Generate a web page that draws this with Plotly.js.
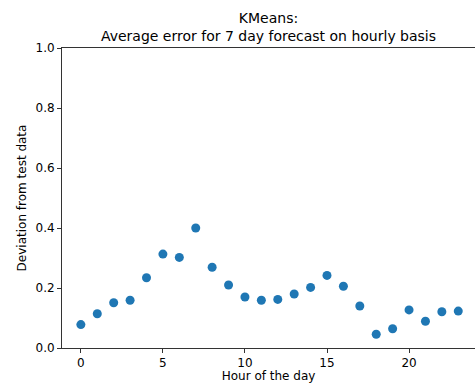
<!DOCTYPE html>
<html>
<head>
<meta charset="utf-8">
<script src="https://cdn.plot.ly/plotly-3.0.1.min.js"></script>
<style>html,body{margin:0;padding:0;background:#fff;}#chart{width:475px;height:383px;}</style>
</head>
<body>
<div id="chart"></div>
<script>
const hours = [0,1,2,3,4,5,6,7,8,9,10,11,12,13,14,15,16,17,18,19,20,21,22,23];
const deviation = [0.078,0.114,0.151,0.159,0.234,0.313,0.302,0.400,0.269,0.210,0.170,0.159,0.162,0.180,0.202,0.242,0.206,0.140,0.046,0.064,0.127,0.089,0.121,0.123];
const xTicks = [0,5,10,15,20];
const yTicks = [0,0.2,0.4,0.6,0.8,1.0];

const font = {family: 'DejaVu Sans, sans-serif', color: '#000'};
Plotly.newPlot('chart', [{
  x: hours, y: deviation, type: 'scatter', mode: 'markers',
  marker: {color: '#1f77b4', size: 9},
  hoverinfo: 'skip'
}], {
  width: 475, height: 383,
  margin: {l: 62, r: 0, t: 48, b: 35},
  paper_bgcolor: '#fff', plot_bgcolor: '#fff',
  font: Object.assign({size: 12}, font),
  showlegend: false,
  title: {
    text: 'KMeans:<br>Average error for 7 day forecast on hourly basis',
    font: Object.assign({size: 14}, font),
    x: 0.5, xref: 'paper', xanchor: 'center',
    y: 1, yref: 'paper', yanchor: 'bottom',
    pad: {b: 25}
  },
  xaxis: {
    range: [-1.15, 24.02], tickvals: xTicks, ticktext: xTicks.map(String),
    showgrid: false, zeroline: false, showline: true, linecolor: '#333', linewidth: 1,
    mirror: true, ticks: 'outside', ticklen: 4, tickcolor: '#333',
    tickfont: Object.assign({size: 12}, font),
    title: {text: 'Hour of the day', font: Object.assign({size: 12}, font), standoff: 4},
    automargin: false
  },
  yaxis: {
    range: [0, 1], tickvals: yTicks, ticktext: yTicks.map(v => v.toFixed(1)),
    showgrid: false, zeroline: false, showline: true, linecolor: '#333', linewidth: 1,
    ticks: 'outside', ticklen: 4, tickcolor: '#333',
    tickfont: Object.assign({size: 12}, font),
    title: {text: 'Deviation from test data', font: Object.assign({size: 12}, font), standoff: 6},
    automargin: false
  }
}, {staticPlot: true});
</script>
</body>
</html>
